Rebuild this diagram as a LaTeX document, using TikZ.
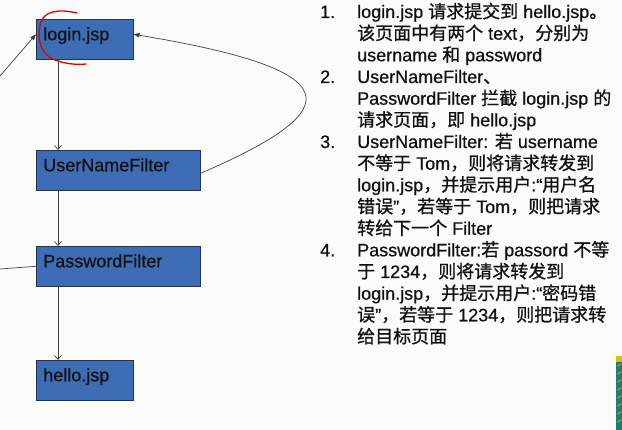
\documentclass[tikz,border=0pt]{standalone}
\usepackage{fontspec}
\setmainfont{Liberation Sans}[FakeBold=0.6]
\newfontfamily\cjk{Noto Sans CJK SC}[FakeBold=0.8]
\newcommand\zh[1]{{\cjk #1}}
\usetikzlibrary{arrows.meta,calc}
\definecolor{bg}{HTML}{FBFBF9}
\definecolor{boxblue}{HTML}{3D6DB5}
\definecolor{boxedge}{HTML}{22334F}
\definecolor{ink}{HTML}{111111}
\definecolor{teal}{HTML}{1A7C72}
\begin{document}
\begin{tikzpicture}[x=1pt,y=-1pt,
  box/.style={draw=boxedge,line width=0.6pt,fill=boxblue,text=ink,
    minimum height=40pt,inner xsep=7pt,inner ysep=0pt,anchor=north west,
    align=left,font=\fontsize{18}{20}\selectfont,text height=12pt,text depth=10pt},
  conn/.style={draw=black!75,line width=0.7pt},
  downarr/.style={conn,-{Straight Barb[length=4pt,width=7pt]}},
  fillarr/.style={conn,-{Triangle[length=6pt,width=4.5pt]}},
  txt/.style={anchor=base west,inner sep=0pt,text=ink,font=\fontsize{18}{20}\selectfont}]
\useasboundingbox (0,0) rectangle (622,430);
\fill[bg] (0,0) rectangle (622,430);

% boxes
\node[box,minimum width=97pt,text width=83pt] (login) at (36,19) {login.jsp};
\node[box,minimum width=164pt,text width=150pt] (unf) at (36,150) {UserNameFilter};
\node[box,minimum width=164pt,text width=150pt] (pf) at (36,246) {PasswordFilter};
\node[box,minimum width=97pt,text width=83pt] (hello) at (36,360) {hello.jsp};

% vertical arrows
\draw[downarr] ($(login.south west)+(22,0)$) -- ($(unf.north west)+(22,0)$);
\draw[downarr] ($(unf.south west)+(22,0)$) -- ($(pf.north west)+(22,0)$);
\draw[downarr] ($(pf.south west)+(22,0)$) -- ($(hello.north west)+(22,0)$);

% loop back from UserNameFilter to login.jsp
\draw[fillarr] ([yshift=-3pt]unf.east) .. controls (352,108) and (348,70) .. ([yshift=5pt]login.east);

% arrows from the left edge
\coordinate (lin) at (0,76);
\draw[fillarr] (lin) -- ([yshift=5pt]login.west);
\coordinate (pin) at (0,269);
\draw[conn] (pin) -- (pf.west);

% red hand-drawn mark
\draw[red!90!black,line width=1.3pt,line cap=round]
  (77,13) .. controls (60,9) and (43,10) .. (40,25)
  .. controls (37,40) and (41,55) .. (55,60)
  .. controls (65,64) and (78,65) .. (86,64);

% numbered list
\node[txt] (n1) at (320,18) {1.};
\node[txt] (n2) at (320,83) {2.};
\node[txt] (n3) at (320,148) {3.};
\node[txt] (n4) at (320,256.3) {4.};

\node[txt] (t1) at (357,18) {login.jsp \zh{请求提交到} hello.jsp\zh{。}};
\node[txt] (t2) at (357,39.7) {\zh{该页面中有两个} text\zh{，分别为}};
\node[txt] (t3) at (357,61.3) {username \zh{和} password};
\node[txt] (t4) at (357,83) {UserNameFilter\zh{、}};
\node[txt] (t5) at (357,104.7) {PasswordFilter \zh{拦截} login.jsp \zh{的}};
\node[txt] (t6) at (357,126.3) {\zh{请求页面，即} hello.jsp};
\node[txt] (t7) at (357,148) {UserNameFilter: \zh{若} username};
\node[txt] (t8) at (357,169.7) {\zh{不等于} Tom\zh{，则将请求转发到}};
\node[txt] (t9) at (357,191.3) {login.jsp\zh{，并提示用户}:“\zh{用户名}};
\node[txt] (t10) at (357,213) {\zh{错误}”\zh{，若等于} Tom\zh{，则把请求}};
\node[txt] (t11) at (357,234.7) {\zh{转给下一个} Filter};
\node[txt] (t12) at (357,256.3) {PasswordFilter:\zh{若} passord \zh{不等}};
\node[txt] (t13) at (357,278) {\zh{于} 1234\zh{，则将请求转发到}};
\node[txt] (t14) at (357,299.7) {login.jsp\zh{，并提示用户}:“\zh{密码错}};
\node[txt] (t15) at (357,321.3) {\zh{误}”\zh{，若等于} 1234\zh{，则把请求转}};
\node[txt] (t16) at (357,343) {\zh{给目标页面}};

% green stripe at the bottom right
\fill[teal] (616,356) rectangle (622,430);
\fill[yellow!60!olive] (616,356) rectangle (622,362);
\foreach \yy in {366,374,...,422}
  \draw[orange!80!yellow,line width=0.8pt] (617,\yy) -- (621,\yy-2);
\end{tikzpicture}
\end{document}
